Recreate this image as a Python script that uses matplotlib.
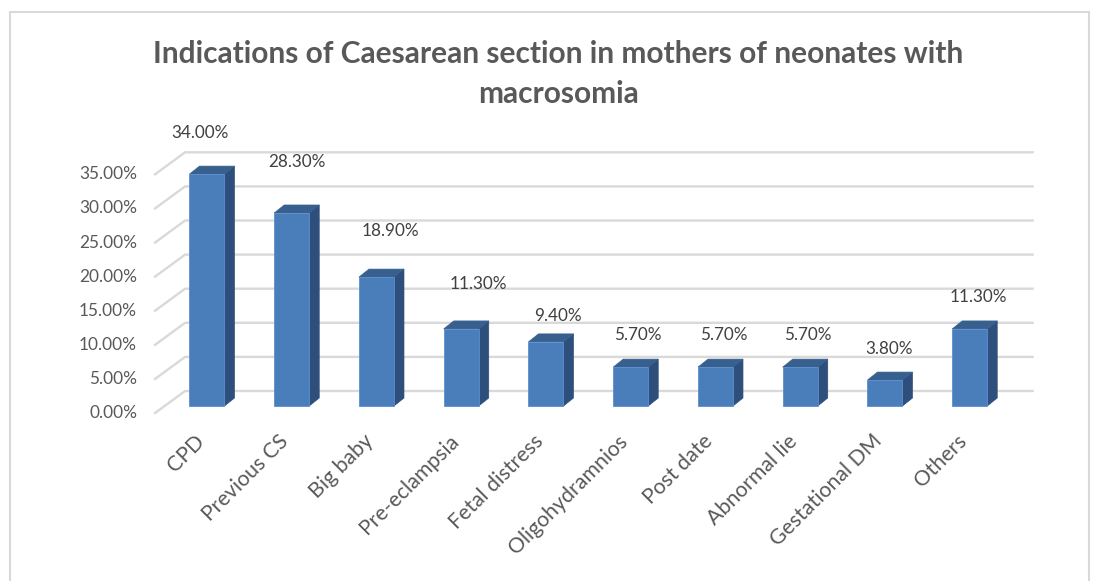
import matplotlib
matplotlib.use("Agg")
import matplotlib.pyplot as plt
from matplotlib.patches import Polygon, Rectangle

# ---- data ----
categories = ["CPD", "Previous CS", "Big baby", "Pre-eclampsia", "Fetal distress",
              "Oligohydramnios", "Post date", "Abnormal lie", "Gestational DM", "Others"]
values = [34.0, 28.3, 18.9, 11.3, 9.4, 5.7, 5.7, 5.7, 3.8, 11.3]
y_ticks = [0, 5, 10, 15, 20, 25, 30, 35]
title = "Indications of Caesarean section in mothers of neonates with\nmacrosomia"

# ---- layout (pixel offsets for label nudges) ----
label_nudge = [(-12, 9), (0, 19), (9, 14), (12, 13), (7, -6), (2, 0), (3, 0), (3, 0), (-1, -1), (4, 0)]

W, H, DPI = 1096, 581, 100
fig = plt.figure(figsize=(W / DPI, H / DPI), dpi=DPI)
fig.patch.set_facecolor("white")

FONT = ["Lato", "DejaVu Sans"]
GRAY = "#595959"

# axes = front plane of the bars
ax_l, ax_r, ax_b, ax_t = 164.6, 1012.1, 406.0, 167.3
ax = fig.add_axes([ax_l / W, 1 - ax_b / H, (ax_r - ax_l) / W, (ax_b - ax_t) / H])
ax.set_xlim(-0.5, len(categories) - 0.5)
ax.set_ylim(0, 35)
ax.axis("off")

px_x = (ax_r - ax_l) / len(categories)   # pixels per category
px_y = (ax_b - ax_t) / 35.0               # pixels per percent

def dx(p):
    return p / px_x

def dy(p):
    return p / px_y

# chart border
border = Rectangle((10 / W, 1 - 600 / H), 1079 / W, 588 / H, transform=fig.transFigure,
                   fill=False, edgecolor="#D9D9D9", linewidth=1.5)
fig.patches.append(border)

# gridlines: front-left diagonal then back wall horizontal
fx, fy = -9.5, -7.0
bx, by = 20.5, 15.0
xl, xr = -0.5, len(categories) - 0.5
for v in y_ticks:
    ax.plot([xl + dx(fx), xl + dx(bx), xr + dx(bx)],
            [v + dy(fy), v + dy(by), v + dy(by)],
            color="#D9D9D9", lw=1.7, clip_on=False, zorder=1, solid_joinstyle="miter")
    ax.text(xl + dx(fx) - dx(18), v + dy(fy), f"{v:.2f}%", ha="right", va="center",
            fontsize=12.4, color=GRAY, family=FONT, clip_on=False)

# bars
bw = 35.0 / px_x
ddx, ddy = dx(10), dy(8)
front_c = "#4A7EBB"
side_c = "#2E4F7C"
top_c = "#37608F"
for i, v in enumerate(values):
    x0, x1 = i - bw / 2, i + bw / 2
    side = Polygon([(x1, 0), (x1 + ddx, ddy), (x1 + ddx, v + ddy), (x1, v)],
                   closed=True, facecolor=side_c, edgecolor=side_c, lw=0.5, zorder=3, clip_on=False)
    top = Polygon([(x0, v), (x0 + ddx, v + ddy), (x1 + ddx, v + ddy), (x1, v)],
                  closed=True, facecolor=top_c, edgecolor=top_c, lw=0.5, zorder=3, clip_on=False)
    front = Rectangle((x0, 0), bw, v, facecolor=front_c, edgecolor="#5B8ED0", lw=0.6,
                      zorder=4, clip_on=False)
    ax.add_patch(side)
    ax.add_patch(top)
    ax.add_patch(front)
    nx, ny = label_nudge[i]
    ax.text(i + dx(5 + nx), v + dy(32 + ny), f"{v:.2f}%", ha="center", va="center",
            fontsize=12.3, color="#404040", family=FONT, clip_on=False, zorder=5)
    ax.text(i - dx(13), -dy(25), categories[i], rotation=45, rotation_mode="anchor",
            ha="right", va="top", fontsize=15.3, color=GRAY, family=FONT, clip_on=False)

fig.text(558 / W, 1 - 74 / H, title, ha="center", va="center", fontsize=21.5,
         fontweight="bold", color=GRAY, family=FONT, linespacing=1.5)

fig.savefig("out.png", dpi=DPI, facecolor="white")
